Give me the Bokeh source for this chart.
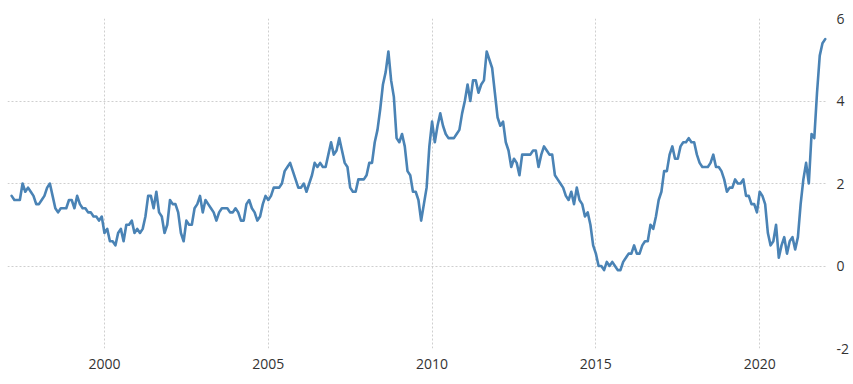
from bokeh.plotting import figure
from bokeh.models import Range1d, FixedTicker, ColumnDataSource
from bokeh.embed import file_html
from bokeh.resources import INLINE
import pandas as pd

# Monthly annual inflation rate (%), March 1997 .. January 2022
start = "1997-03-01"
rate = [
    # 1997 (Mar-Dec)
    1.7, 1.6, 1.6, 1.6, 2.0, 1.8, 1.9, 1.8, 1.7, 1.5,
    # 1998
    1.5, 1.6, 1.7, 1.9, 2.0, 1.7, 1.4, 1.3, 1.4, 1.4, 1.4, 1.6,
    # 1999
    1.6, 1.4, 1.7, 1.5, 1.4, 1.4, 1.3, 1.3, 1.2, 1.2, 1.1, 1.2,
    # 2000
    0.8, 0.9, 0.6, 0.6, 0.5, 0.8, 0.9, 0.6, 1.0, 1.0, 1.1, 0.8,
    # 2001
    0.9, 0.8, 0.9, 1.2, 1.7, 1.7, 1.4, 1.8, 1.3, 1.2, 0.8, 1.0,
    # 2002
    1.6, 1.5, 1.5, 1.3, 0.8, 0.6, 1.1, 1.0, 1.0, 1.4, 1.5, 1.7,
    # 2003
    1.3, 1.6, 1.5, 1.4, 1.3, 1.1, 1.3, 1.4, 1.4, 1.4, 1.3, 1.3,
    # 2004
    1.4, 1.3, 1.1, 1.1, 1.5, 1.6, 1.4, 1.3, 1.1, 1.2, 1.5, 1.7,
    # 2005
    1.6, 1.7, 1.9, 1.9, 1.9, 2.0, 2.3, 2.4, 2.5, 2.3, 2.1, 1.9,
    # 2006
    1.9, 2.0, 1.8, 2.0, 2.2, 2.5, 2.4, 2.5, 2.4, 2.4, 2.7, 3.0,
    # 2007
    2.7, 2.8, 3.1, 2.8, 2.5, 2.4, 1.9, 1.8, 1.8, 2.1, 2.1, 2.1,
    # 2008
    2.2, 2.5, 2.5, 3.0, 3.3, 3.8, 4.4, 4.7, 5.2, 4.5, 4.1, 3.1,
    # 2009
    3.0, 3.2, 2.9, 2.3, 2.2, 1.8, 1.8, 1.6, 1.1, 1.5, 1.9, 2.9,
    # 2010
    3.5, 3.0, 3.4, 3.7, 3.4, 3.2, 3.1, 3.1, 3.1, 3.2, 3.3, 3.7,
    # 2011
    4.0, 4.4, 4.0, 4.5, 4.5, 4.2, 4.4, 4.5, 5.2, 5.0, 4.8, 4.2,
    # 2012
    3.6, 3.4, 3.5, 3.0, 2.8, 2.4, 2.6, 2.5, 2.2, 2.7, 2.7, 2.7,
    # 2013
    2.7, 2.8, 2.8, 2.4, 2.7, 2.9, 2.8, 2.7, 2.7, 2.2, 2.1, 2.0,
    # 2014
    1.9, 1.7, 1.6, 1.8, 1.5, 1.9, 1.6, 1.5, 1.2, 1.3, 1.0, 0.5,
    # 2015
    0.3, 0.0, 0.0, -0.1, 0.1, 0.0, 0.1, 0.0, -0.1, -0.1, 0.1, 0.2,
    # 2016
    0.3, 0.3, 0.5, 0.3, 0.3, 0.5, 0.6, 0.6, 1.0, 0.9, 1.2, 1.6,
    # 2017
    1.8, 2.3, 2.3, 2.7, 2.9, 2.6, 2.6, 2.9, 3.0, 3.0, 3.1, 3.0,
    # 2018
    3.0, 2.7, 2.5, 2.4, 2.4, 2.4, 2.5, 2.7, 2.4, 2.4, 2.3, 2.1,
    # 2019
    1.8, 1.9, 1.9, 2.1, 2.0, 2.0, 2.1, 1.7, 1.7, 1.5, 1.5, 1.3,
    # 2020
    1.8, 1.7, 1.5, 0.8, 0.5, 0.6, 1.0, 0.2, 0.5, 0.7, 0.3, 0.6,
    # 2021
    0.7, 0.4, 0.7, 1.5, 2.1, 2.5, 2.0, 3.2, 3.1, 4.2, 5.1, 5.4,
    # 2022 (Jan)
    5.5,
]

x_ticks = [2000, 2005, 2010, 2015, 2020]
x_tick_labels = ["2000", "2005", "2010", "2015", "2020"]
y_ticks = [-2, 0, 2, 4, 6]
y_tick_labels = ["-2", "0", "2", "4", "6"]

dates = pd.date_range(start=start, periods=len(rate), freq="MS")
dec_year = [d.year + (d.month - 1) / 12.0 for d in dates]
src = ColumnDataSource(data=dict(x=dec_year, y=rate))

p = figure(
    frame_width=820, frame_height=330,
    x_range=Range1d(1997.04, 2022.07), y_range=Range1d(-2, 6),
    output_backend="svg", toolbar_location=None,
    y_axis_location="right",
    min_border_left=7, min_border_top=18, min_border_right=18, min_border_bottom=10,
)
p.outline_line_color = None
p.background_fill_color = "white"
p.border_fill_color = "white"

p.line("x", "y", source=src, line_color="#4a83b5", line_width=2.6,
       line_join="round", line_cap="round")

p.xaxis.ticker = FixedTicker(ticks=x_ticks)
p.xaxis.major_label_overrides = {t: l for t, l in zip(x_ticks, x_tick_labels)}
p.yaxis.ticker = FixedTicker(ticks=y_ticks)
p.yaxis.major_label_overrides = {t: l for t, l in zip(y_ticks, y_tick_labels)}

for ax in (p.xaxis, p.yaxis):
    ax.axis_line_color = None
    ax.major_tick_line_color = None
    ax.minor_tick_line_color = None
    ax.major_label_text_font = "Open Sans"
    ax.major_label_text_font_size = "14px"
    ax.major_label_text_color = "#333333"
p.xaxis.major_label_standoff = 4
p.yaxis.major_label_standoff = 3

for g in (p.xgrid, p.ygrid):
    g.grid_line_color = "#cfcfcf"
    g.grid_line_dash = "2 2"
    g.grid_line_width = 1

open("out.html", "w").write(file_html(p, INLINE))
